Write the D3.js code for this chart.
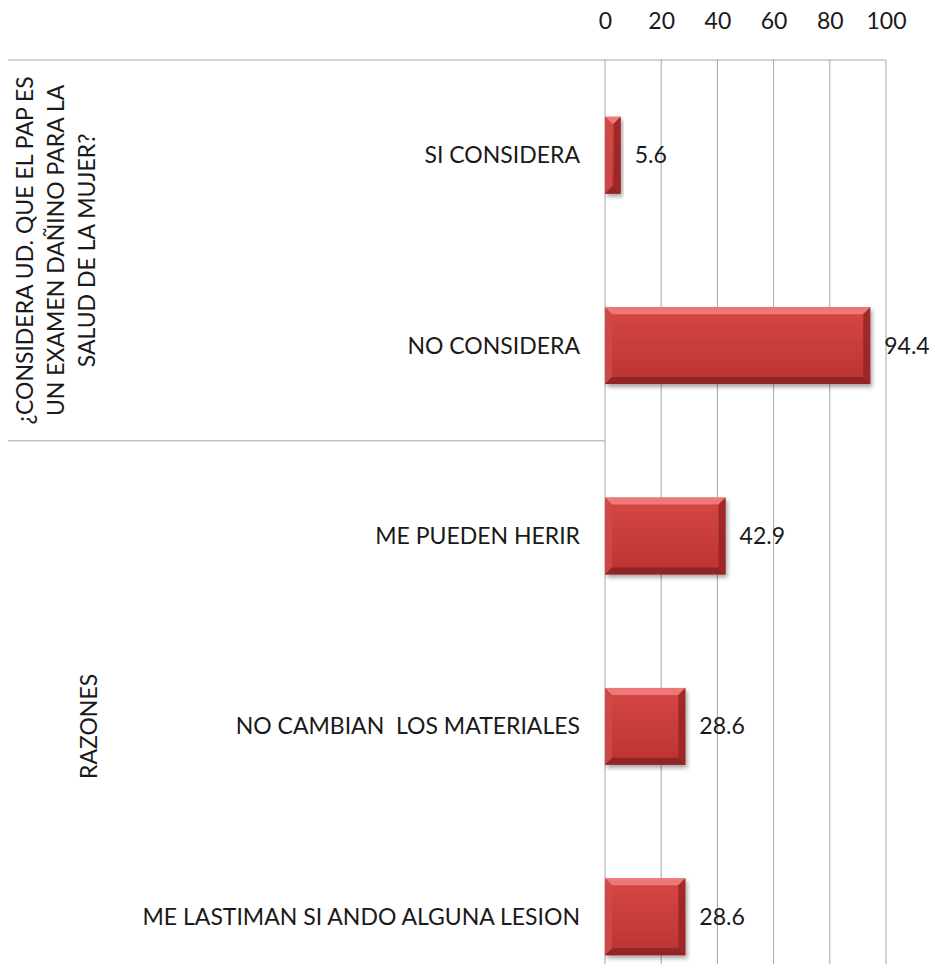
<!DOCTYPE html>
<html>
<head>
<meta charset="utf-8">
<script src="https://cdn.jsdelivr.net/npm/d3@7"></script>
<style>
  html, body { margin: 0; padding: 0; background: #fff; }
  svg { display: block; }
  text { font-family: Lato, "Open Sans", sans-serif; fill: #1a1a1a; }
</style>
</head>
<body>
<svg id="chart" width="935" height="964"></svg>
<script>
// Categories (top to bottom) and their percentages
const categories = [
  "SI CONSIDERA",
  "NO CONSIDERA",
  "ME PUEDEN HERIR",
  "NO CAMBIAN  LOS MATERIALES",
  "ME LASTIMAN SI ANDO ALGUNA LESION"
];
const values = [5.6, 94.4, 42.9, 28.6, 28.6];

// Outer category groups: label lines and how many rows each spans
const groupLabels = [
  ["¿CONSIDERA UD. QUE EL PAP ES", "UN EXAMEN DAÑINO PARA LA", "SALUD DE LA MUJER?"],
  ["RAZONES"]
];
const groupSizes = [2, 3];

const tickValues = [0, 20, 40, 60, 80, 100];

const svg = d3.select("#chart");
const fontSize = 23;

const plotLeft = 605, plotRight = 886, plotTop = 60, plotBottom = 1012;
const frameLeft = 8;

const x = d3.scaleLinear().domain([0, 100]).range([plotLeft, plotRight]);
const y = d3.scaleBand().domain(categories).range([plotTop, plotBottom])
  .paddingInner(0.596).paddingOuter(0.298);

const defs = svg.append("defs");
const grad = defs.append("linearGradient").attr("id", "barFill")
  .attr("x1", 0).attr("y1", 0).attr("x2", 0).attr("y2", 1);
grad.append("stop").attr("offset", "0%").attr("stop-color", "#d64746");
grad.append("stop").attr("offset", "100%").attr("stop-color", "#bb3332");

const shadow = defs.append("filter").attr("id", "shadow")
  .attr("x", "-10%").attr("y", "-10%").attr("width", "130%").attr("height", "140%");
shadow.append("feDropShadow").attr("dx", 2).attr("dy", 3)
  .attr("stdDeviation", 2).attr("flood-color", "#000").attr("flood-opacity", 0.35);

// Vertical gridlines
svg.append("g").selectAll("line").data(tickValues).join("line")
  .attr("x1", d => x(d)).attr("x2", d => x(d))
  .attr("y1", plotTop).attr("y2", plotBottom)
  .attr("stroke", "#a6a6a6").attr("stroke-width", 1);

// Top axis tick labels
const axis = d3.axisTop(x).tickValues(tickValues).tickSize(0).tickPadding(0);
const axisG = svg.append("g").attr("transform", "translate(0,29)").call(axis);
axisG.select(".domain").remove();
axisG.selectAll("text").attr("font-size", fontSize).attr("font-family", "Lato, 'Open Sans', sans-serif")
  .attr("fill", "#1a1a1a");

// Group frame lines (left of the value axis)
let acc = 0;
const boundaries = [0];
groupSizes.forEach(s => { acc += s; boundaries.push(acc); });
svg.append("line").attr("x1", frameLeft).attr("x2", plotRight)
  .attr("y1", plotTop).attr("y2", plotTop).attr("stroke", "#a6a6a6");
boundaries.slice(1, -1).forEach(b => {
  const yy = y(categories[b]) - y.step() * y.paddingInner() / 2;
  svg.append("line").attr("x1", frameLeft).attr("x2", plotLeft)
    .attr("y1", yy).attr("y2", yy).attr("stroke", "#a6a6a6");
});

// Group labels, rotated (one text per line, baseline at the given x)
const groupX = [[33, 64, 95], [97]];
groupLabels.forEach((lines, gi) => {
  const first = categories[boundaries[gi]];
  const last = categories[boundaries[gi + 1] - 1];
  const yc = (y(first) + y(last) + y.bandwidth()) / 2;
  lines.forEach((ln, li) => {
    svg.append("text")
      .attr("transform", `translate(${groupX[gi][li]},${yc}) rotate(-90)`)
      .attr("text-anchor", "middle")
      .attr("font-size", fontSize)
      .text(ln);
  });
});

// Category labels
svg.append("g").selectAll("text").data(categories).join("text")
  .attr("x", 580).attr("y", d => y(d) + y.bandwidth() / 2)
  .attr("dy", "0.35em").attr("text-anchor", "end")
  .attr("font-size", fontSize).style("white-space", "pre")
  .text(d => d);

// Bars with bevelled edges
const bev = 7;
const rows = categories.map((c, i) => ({ c, v: values[i] }));
const bars = svg.append("g").selectAll("g").data(rows).join("g");
bars.append("rect")
  .attr("x", x(0)).attr("y", d => y(d.c))
  .attr("width", d => x(d.v) - x(0)).attr("height", y.bandwidth())
  .attr("fill", "url(#barFill)").attr("filter", "url(#shadow)");
function facet(d, side) {
  const x0 = x(0), x1 = x(d.v), y0 = y(d.c), y1 = y0 + y.bandwidth();
  const b = Math.min(bev, (x1 - x0) / 2);
  const pts = {
    top: [[x0, y0], [x1, y0], [x1 - b, y0 + b], [x0 + b, y0 + b]],
    bottom: [[x0, y1], [x1, y1], [x1 - b, y1 - b], [x0 + b, y1 - b]],
    left: [[x0, y0], [x0 + b, y0 + b], [x0 + b, y1 - b], [x0, y1]],
    right: [[x1, y0], [x1 - b, y0 + b], [x1 - b, y1 - b], [x1, y1]]
  }[side];
  return "M" + pts.map(p => p.join(",")).join("L") + "Z";
}
const facetFill = { top: "#f08280", left: "#cf4a48", right: "#962525", bottom: "#8a2222" };
["top", "left", "right", "bottom"].forEach(side => {
  bars.append("path").attr("d", d => facet(d, side)).attr("fill", facetFill[side]).attr("opacity", 0.85);
});

// Value labels
svg.append("g").selectAll("text").data(rows).join("text")
  .attr("x", d => x(d.v) + 14).attr("y", d => y(d.c) + y.bandwidth() / 2)
  .attr("dy", "0.35em").attr("font-size", fontSize)
  .text(d => d.v.toFixed(1));
</script>
</body>
</html>
